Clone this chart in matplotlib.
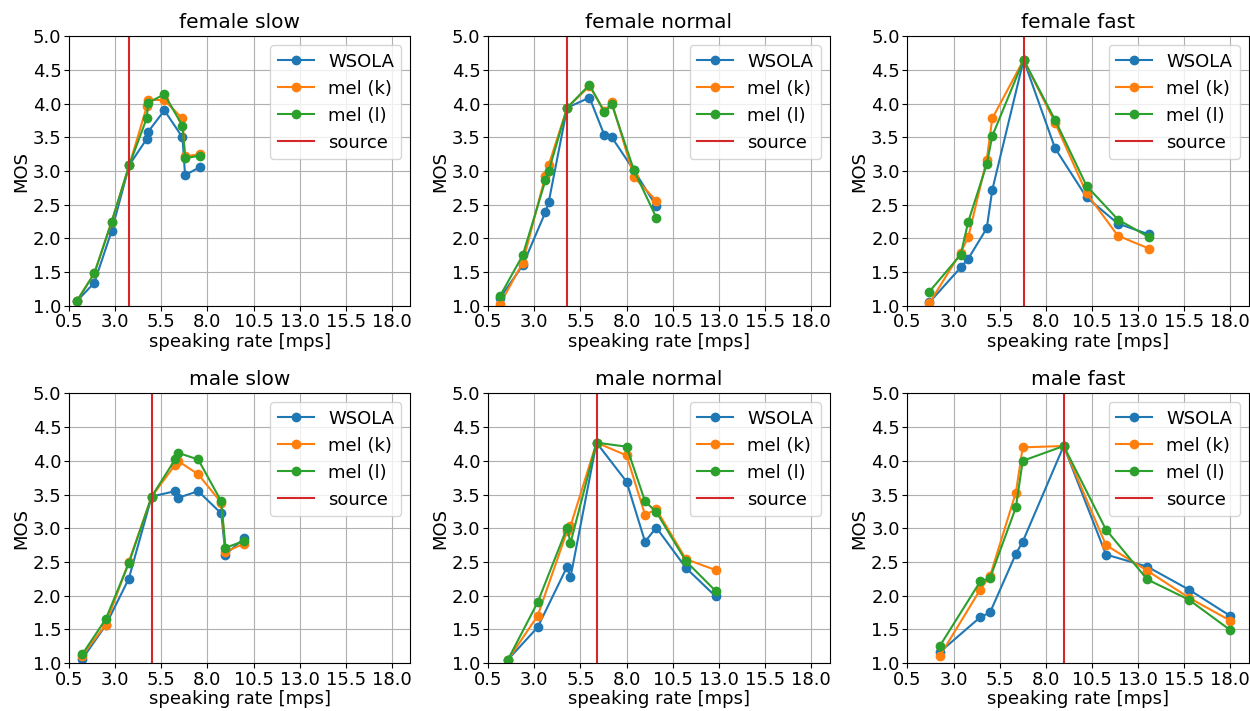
import matplotlib
matplotlib.use('Agg')
import matplotlib.pyplot as plt
import numpy as np

plt.rcParams['font.size'] = 13

titles = ['female slow', 'female normal', 'female fast',
          'male slow', 'male normal', 'male fast']

# speaking rate for each stretch factor, per panel
rates = [
    [0.92, 1.87, 2.81, 3.77, 4.72, 4.78, 5.67, 6.65, 6.79, 7.61],
    [1.15, 2.37, 3.60, 3.78, 4.78, 5.99, 6.80, 7.20, 8.40, 9.61],
    [1.69, 3.39, 3.80, 4.80, 5.10, 6.80, 8.50, 10.21, 11.91, 13.59],
    [1.22, 2.49, 3.74, 4.98, 6.25, 6.40, 7.50, 8.75, 8.98, 9.98],
    [1.57, 3.18, 4.78, 4.96, 6.37, 8.00, 9.00, 9.61, 11.22, 12.82],
    [2.25, 4.45, 4.98, 6.38, 6.75, 8.97, 11.26, 13.50, 15.75, 17.99],
]

source_rate = [3.77, 4.78, 6.80, 4.98, 6.37, 8.97]

mos_wsola = [
    [1.07, 1.34, 2.11, 3.09, 3.48, 3.58, 3.90, 3.50, 2.94, 3.06],
    [1.12, 1.60, 2.39, 2.54, 3.94, 4.09, 3.53, 3.50, 3.01, 2.48],
    [1.05, 1.57, 1.70, 2.15, 2.72, 4.65, 3.34, 2.61, 2.22, 2.06],
    [1.06, 1.56, 2.25, 3.47, 3.55, 3.45, 3.55, 3.22, 2.61, 2.85],
    [1.05, 1.53, 2.43, 2.27, 4.27, 3.69, 2.80, 3.01, 2.41, 1.99],
    [1.16, 1.68, 1.75, 2.62, 2.80, 4.22, 2.61, 2.43, 2.09, 1.70],
]

mos_mel_k = [
    [1.07, 1.48, 2.24, 3.09, 3.96, 4.06, 4.05, 3.78, 3.22, 3.25],
    [1.03, 1.64, 2.93, 3.09, 3.94, 4.26, 3.89, 4.02, 2.91, 2.56],
    [1.04, 1.79, 2.02, 3.17, 3.78, 4.65, 3.72, 2.67, 2.04, 1.85],
    [1.11, 1.57, 2.50, 3.47, 3.94, 4.00, 3.80, 3.38, 2.65, 2.77],
    [1.05, 1.70, 2.96, 3.03, 4.27, 4.08, 3.20, 3.28, 2.54, 2.38],
    [1.10, 2.09, 2.29, 3.53, 4.20, 4.22, 2.75, 2.37, 1.97, 1.63],
]

mos_mel_l = [
    [1.07, 1.48, 2.25, 3.09, 3.79, 4.01, 4.14, 3.67, 3.19, 3.23],
    [1.15, 1.75, 2.86, 3.00, 3.94, 4.28, 3.87, 3.99, 3.01, 2.31],
    [1.21, 1.76, 2.25, 3.10, 3.52, 4.65, 3.76, 2.78, 2.28, 2.02],
    [1.13, 1.65, 2.48, 3.47, 4.02, 4.12, 4.02, 3.40, 2.71, 2.81],
    [1.05, 1.90, 3.01, 2.78, 4.27, 4.21, 3.40, 3.24, 2.51, 2.07],
    [1.25, 2.21, 2.26, 3.31, 4.00, 4.22, 2.98, 2.24, 1.94, 1.49],
]

fig, axes = plt.subplots(2, 3, figsize=(12.5, 7.11), dpi=100)
fig.subplots_adjust(left=0.0552, right=0.999, top=0.949, bottom=0.0675,
                    wspace=0.228, hspace=0.325)

for i, ax in enumerate(axes.flat):
    ax.plot(rates[i], mos_wsola[i], 'o-', label='WSOLA')
    ax.plot(rates[i], mos_mel_k[i], 'o-', label='mel (k)')
    ax.plot(rates[i], mos_mel_l[i], 'o-', label='mel (l)')
    ax.axvline(source_rate[i], color='tab:red', label='source')
    ax.set_xlim(0.5, 19)
    ax.set_ylim(1, 5)
    ax.set_xticks(np.arange(0.5, 19, 2.5))
    ax.set_yticks(np.arange(1, 5.01, 0.5))
    ax.tick_params(pad=2)
    ax.grid(True)
    ax.set_title(titles[i], fontsize=14.5, pad=6)
    ax.set_xlabel('speaking rate [mps]', labelpad=1)
    ax.set_ylabel('MOS', labelpad=2)
    ax.legend(loc='upper right')

plt.savefig('out.png')
